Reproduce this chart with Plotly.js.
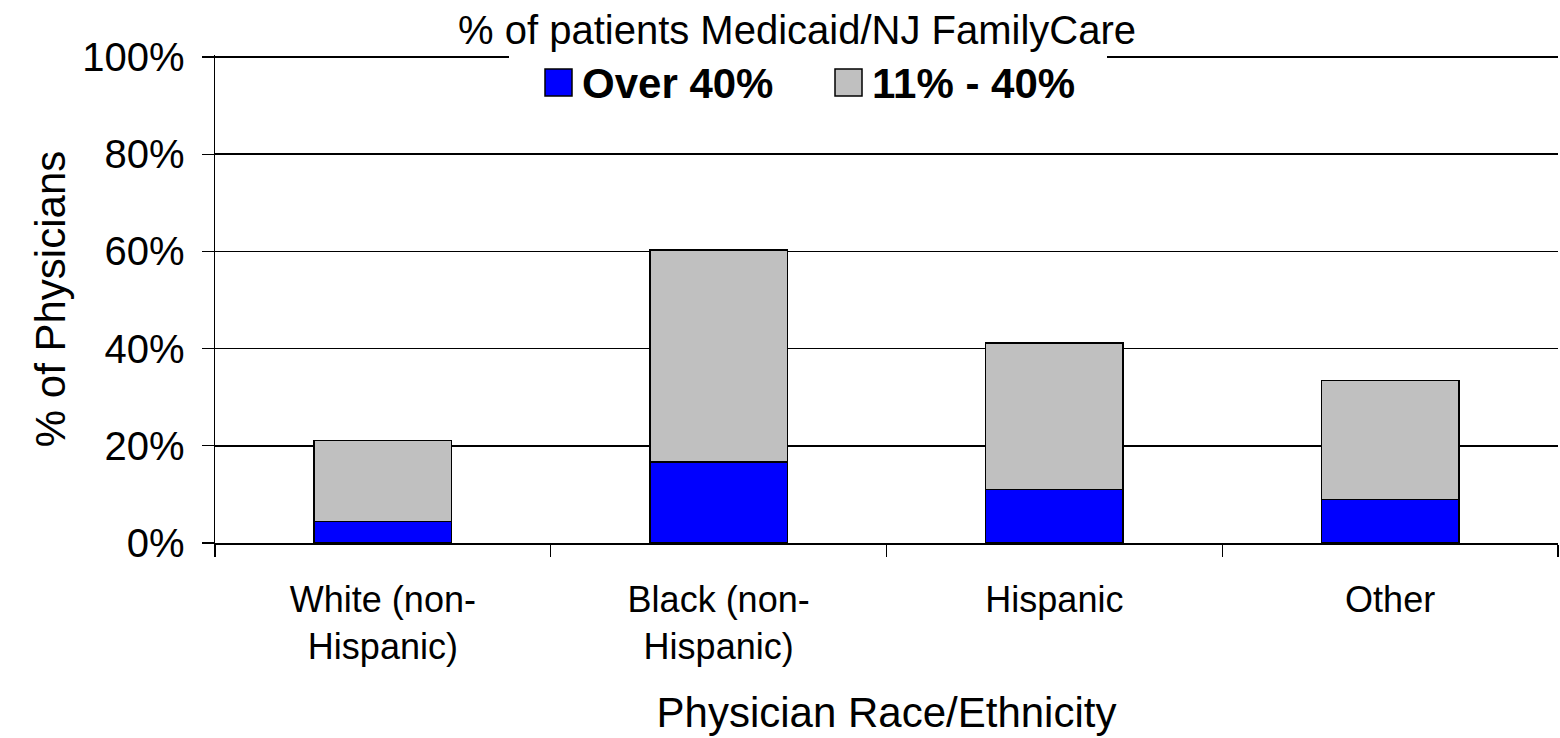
<!DOCTYPE html>
<html>
<head>
<meta charset="utf-8">
<script src="https://cdn.plot.ly/plotly-3.0.1.min.js"></script>
<style>
html,body{margin:0;padding:0;background:#fff;}
#chart{width:1560px;height:738px;}
</style>
</head>
<body>
<div id="chart"></div>
<script>
// ---- data ----
var categories = ["White (non-<br>Hispanic)", "Black (non-<br>Hispanic)", "Hispanic", "Other"];
var seriesNames = ["Over 40%", "11% - 40%"];
var over40 = [4.4, 16.7, 11.0, 8.9];
var pct11to40 = [16.7, 43.6, 30.2, 24.5];
var yTickVals = [0, 20, 40, 60, 80, 100];
var yTickText = ["0%", "20%", "40%", "60%", "80%", "100%"];
var chartTitle = "% of patients Medicaid/NJ FamilyCare";
var xTitle = "Physician Race/Ethnicity";
var yTitle = "% of Physicians";
var colors = ["#0000FF", "#C0C0C0"];

var FONT = "Liberation Sans, Arial, sans-serif";

var traces = [
  {type: "bar", x: categories, y: over40, name: seriesNames[0], showlegend: false,
   marker: {color: colors[0], line: {color: "#000", width: 1.5}}, hoverinfo: "skip"},
  {type: "bar", x: categories, y: pct11to40, name: seriesNames[1], showlegend: false,
   marker: {color: colors[1], line: {color: "#000", width: 1.5}}, hoverinfo: "skip"}
];

// layout helpers (paper coords)
var L = 215, R = 1558, T = 55, B = 543.5;
var YMAX = 100.4;
function px(x){ return (x - L) / (R - L); }
function py(y){ return (B - y) / (B - T); }

var layout = {
  width: 1560, height: 738,
  margin: {l: L, r: 1560 - R, t: T, b: 738 - B},
  paper_bgcolor: "#fff", plot_bgcolor: "#fff",
  barmode: "stack",
  bargap: 0.59,
  font: {family: FONT, color: "#000"},
  xaxis: {
    type: "category",
    tickson: "boundaries",
    ticks: "outside", ticklen: 12, tickwidth: 1.3, tickcolor: "#000",
    showline: true, linecolor: "#000", linewidth: 1.5,
    showgrid: false,
    tickfont: {family: FONT, size: 36, color: "#000"},
    ticklabelstandoff: 24,
    title: {text: xTitle, font: {family: FONT, size: 42, color: "#000"}, standoff: 32},
    automargin: false
  },
  yaxis: {
    range: [0, YMAX],
    tickvals: yTickVals,
    ticktext: yTickText,
    ticks: "outside", ticklen: 12, tickwidth: 1.3, tickcolor: "#000",
    showline: true, linecolor: "#000", linewidth: 1.5,
    showgrid: true, gridcolor: "#000", gridwidth: 1.5,
    zeroline: false,
    tickfont: {family: FONT, size: 40, color: "#000"},
    ticklabelstandoff: 9,
    title: {text: yTitle, font: {family: FONT, size: 42, color: "#000"}, standoff: 3},
    automargin: false,
    fixedrange: true
  },
  shapes: [
    {type: "rect", xref: "paper", yref: "paper", layer: "above",
     x0: px(509), x1: px(1107), y0: py(63), y1: py(40),
     fillcolor: "#fff", line: {width: 0}},
    {type: "rect", xref: "paper", yref: "paper", layer: "above",
     x0: px(545), x1: px(572), y0: py(96), y1: py(69),
     fillcolor: colors[0], line: {color: "#000", width: 1.5}},
    {type: "rect", xref: "paper", yref: "paper", layer: "above",
     x0: px(835), x1: px(862), y0: py(96), y1: py(69),
     fillcolor: colors[1], line: {color: "#000", width: 1.5}}
  ],
  annotations: [
    {xref: "paper", yref: "paper", x: px(797), y: py(30), xanchor: "center", yanchor: "middle",
     text: chartTitle, showarrow: false, font: {family: FONT, size: 40, color: "#000"}},
    {xref: "paper", yref: "paper", x: px(580), y: py(84), xanchor: "left", yanchor: "middle",
     text: "<b>" + seriesNames[0] + "</b>", showarrow: false, font: {family: FONT, size: 42, color: "#000"}},
    {xref: "paper", yref: "paper", x: px(870), y: py(84), xanchor: "left", yanchor: "middle",
     text: "<b>" + seriesNames[1] + "</b>", showarrow: false, font: {family: FONT, size: 42, color: "#000"}}
  ]
};

Plotly.newPlot("chart", traces, layout, {staticPlot: true, displayModeBar: false});
</script>
</body>
</html>
